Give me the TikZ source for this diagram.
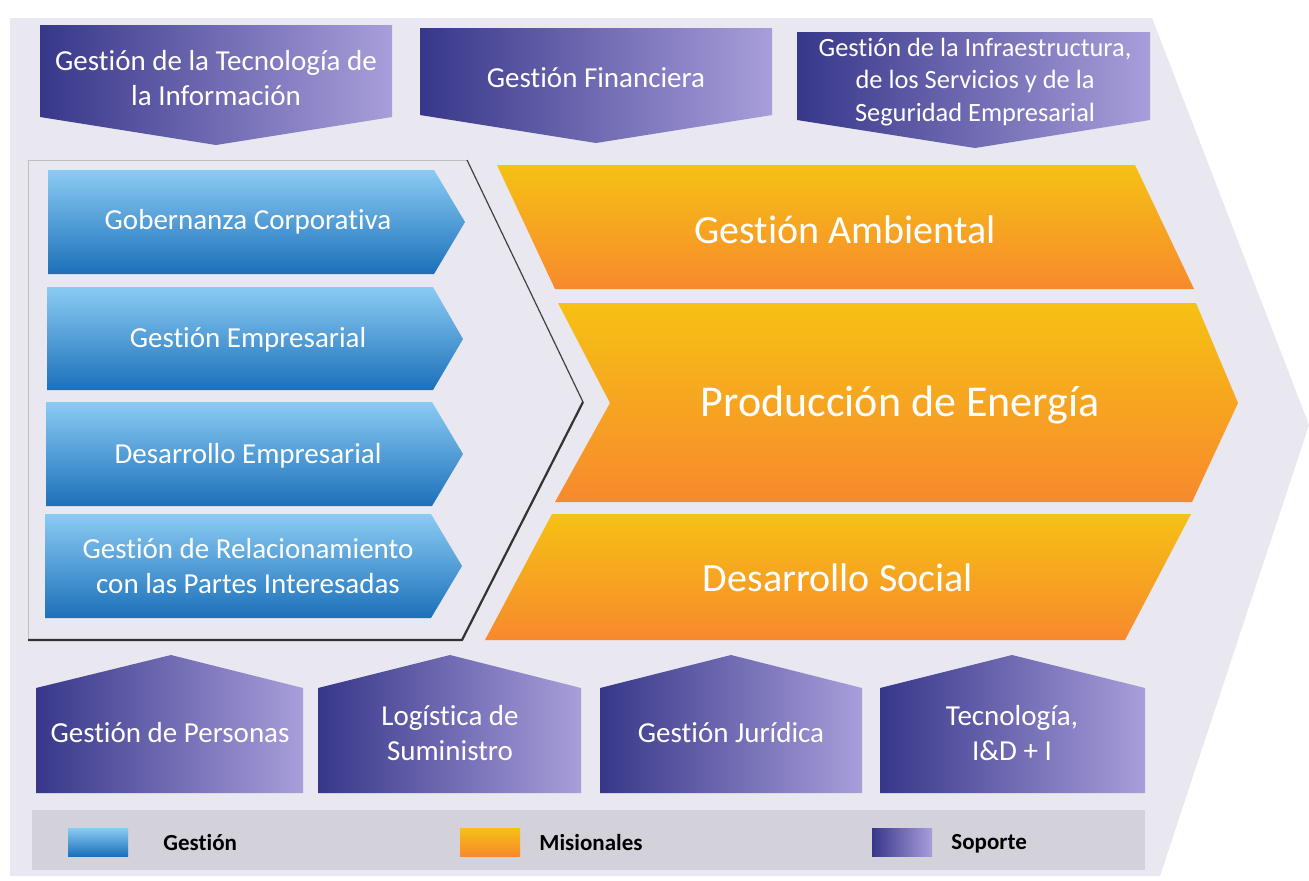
\documentclass[tikz,border=0pt]{standalone}
\usepackage{fontspec}
\setmainfont[Ligatures=NoCommon]{Carlito}
\usetikzlibrary{positioning}

\definecolor{fondo}{HTML}{E9E7EF}
\definecolor{franja}{HTML}{D3D1DA}
\definecolor{azulclaro}{HTML}{8ACBF3}
\definecolor{azuloscuro}{HTML}{1C70BA}
\definecolor{amarillo}{HTML}{F6C114}
\definecolor{naranja}{HTML}{F7892D}
\definecolor{moradoosc}{HTML}{37378A}
\definecolor{moradocl}{HTML}{A89EDA}

\begin{document}
\begin{tikzpicture}
		[x=0.5pt, y=-0.5pt,
		gestion/.style={top color=azulclaro, bottom color=azuloscuro},
		misional/.style={top color=amarillo, bottom color=naranja},
		soporte/.style={left color=moradoosc, right color=moradocl},
		label/.style={text=white, align=center, font=\fontsize{14.5}{17.5}\selectfont},
		biglabel/.style={text=white, font=\fontsize{20}{24}\selectfont},
		swatch/.style={minimum width=30pt, minimum height=14pt, inner sep=0pt},
		legend/.style={font=\bfseries\fontsize{11.5}{13}\selectfont}]
		\useasboundingbox (0,0) rectangle (1309,880);

		% fondo
		\fill[fondo] (10,18) -- (1152,18) -- (1309,425) -- (1160,876) -- (10,876) -- cycle;
		\fill[franja] (32,810) rectangle (1145,870);

		% apoyo superior
		\shade[soporte] (40,25) -- (392,25) -- (392,117) -- (216,145) -- (40,117) -- cycle;
		\shade[soporte] (420,28) -- (772,28) -- (772,115) -- (596,143) -- (420,115) -- cycle;
		\shade[soporte] (797,32) -- (1150,32) -- (1150,120) -- (975,148) -- (797,120) -- cycle;
		\node[label] (tic) at (216,78) {Gestión de la Tecnología de\\la Información};
		\node[label] (fin) at (596,78) {Gestión Financiera};
		\node[label, font=\fontsize{13.2}{16.2}\selectfont] (infra) at (975,82) {Gestión de la Infraestructura,\\de los Servicios y de la\\Seguridad Empresarial};

		% marco de gestion
		\draw[black!25] (28,640) -- (28,160) -- (467,160);
		\draw[black!75, line width=0.6pt] (467,160) -- (583,402);
		\draw[black!80, line width=1.1pt] (583,402) -- (462,640) -- (28,640);

		% gestion
		\shade[gestion] (48,170) -- (434,170) -- (465,222) -- (434,274) -- (48,274) -- cycle;
		\shade[gestion] (47,287) -- (433,287) -- (463,339) -- (433,390) -- (47,390) -- cycle;
		\shade[gestion] (46,402) -- (432,402) -- (463,454) -- (432,506) -- (46,506) -- cycle;
		\shade[gestion] (45,514) -- (431,514) -- (462,566) -- (431,618) -- (45,618) -- cycle;
		\node[label] (gob) at (248,222) {Gobernanza Corporativa};
		\node[label] (emp) at (248,340) {Gestión Empresarial};
		\node[label] (des) at (248,456) {Desarrollo Empresarial};
		\node[label] (rel) at (248,566) {Gestión de Relacionamiento\\con las Partes Interesadas};

		% misionales
		\shade[misional] (497,165) -- (1135,165) -- (1194,289) -- (555,289) -- cycle;
		\shade[misional] (558,303) -- (1196,303) -- (1238,403) -- (1192,502) -- (555,502) -- (610,403) -- cycle;
		\shade[misional] (552,514) -- (1191,514) -- (1125,640) -- (485,640) -- cycle;
		\node[biglabel] (amb) at (845,230) {Gestión Ambiental};
		\node[biglabel, font=\fontsize{22}{26}\selectfont] (ene) at (900,405) {Producción de Energía};
		\node[biglabel] (soc) at (838,578) {Desarrollo Social};

		% apoyo inferior
		\shade[soporte] (36,793) -- (36,688) -- (171,655) -- (303,688) -- (303,793) -- cycle;
		\shade[soporte] (318,793) -- (318,688) -- (450,655) -- (581,688) -- (581,793) -- cycle;
		\shade[soporte] (600,793) -- (600,688) -- (731,655) -- (862,688) -- (862,793) -- cycle;
		\shade[soporte] (880,793) -- (880,688) -- (1012,655) -- (1145,688) -- (1145,793) -- cycle;
		\node[label] (per) at (170,733) {Gestión de Personas};
		\node[label] (log) at (450,733) {Logística de\\Suministro};
		\node[label] (jur) at (731,733) {Gestión Jurídica};
		\node[label] (idi) at (1012,733) {Tecnología,\\I\&D + I};

		% convenciones
		\node[swatch, gestion] (sw1) at (98,842) {};
		\node[legend, right=14pt of sw1] (lg1) {Gestión};
		\node[swatch, misional] (sw2) at (490,842) {};
		\node[legend, right=6pt of sw2] (lg2) {Misionales};
		\node[swatch, soporte] (sw3) at (902,842) {};
		\node[legend, right=6pt of sw3, yshift=-1pt] (lg3) {Soporte};
	\end{tikzpicture}
\end{document}
